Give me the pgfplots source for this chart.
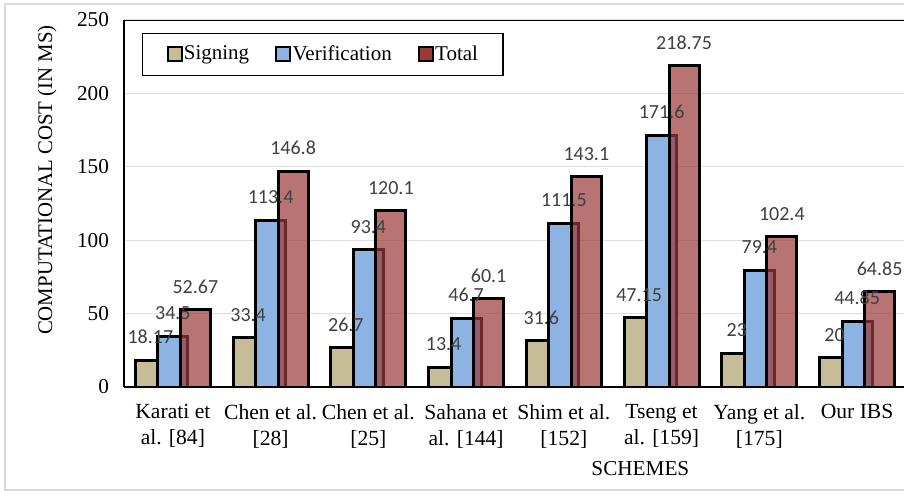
\documentclass[border=0pt]{standalone}
\usepackage{fontspec}
\setmainfont{Liberation Serif}
\newfontfamily\calibri{Carlito}
\usepackage{pgfplots}
\pgfplotsset{compat=1.18}
\usepackage{pgfplotstable}

\pgfplotstableread{
x sig ver tot
0 18.17 34.5 52.67
1 33.4 113.4 146.8
2 26.7 93.4 120.1
3 13.4 46.7 60.1
4 31.6 111.5 143.1
5 47.15 171.6 218.75
6 23 79.4 102.4
7 20 44.85 64.85
}\data

\definecolor{sigc}{RGB}{196,189,151}
\definecolor{verc}{RGB}{141,179,226}
\definecolor{totc}{RGB}{155,56,56}
\definecolor{labc}{RGB}{64,64,64}
\definecolor{gridc}{RGB}{222,222,222}

\begin{document}
\begin{tikzpicture}
\useasboundingbox (0,0) rectangle (452pt,247.5pt);
\fill[white] (0,0) rectangle (452pt,247.5pt);
\draw[gray!30, line width=0.75pt] (456pt,245.5pt) -- (2.5pt,245.5pt) -- (2.5pt,2.5pt) -- (456pt,2.5pt);
\begin{axis}[
  at={(62pt,54pt)}, anchor=south west,
  scale only axis, width=390pt, height=183.5pt,
  xmin=-0.5, xmax=7.48, ymin=0, ymax=250,
  ybar, bar width=15pt,
  /pgf/number format/assume math mode=true,
  xtick={0,...,7},
  xticklabels={{Karati et\\al. [84]},{Chen et al.\\{}[28]},{Chen et al.\\{}[25]},{Sahana et\\al. [144]},{Shim et al.\\{}[152]},{Tseng et\\al. [159]},{Yang et al.\\{}[175]},{Our IBS}},
  xticklabel style={align=center, font=\fontsize{10.8}{13}\selectfont, yshift=-5pt},
  ytick={0,50,...,250},
  yticklabel style={font=\fontsize{10.6}{12}\selectfont, xshift=-4pt},
  major tick length=0pt,
  axis x line*=bottom, axis y line*=left,
  x axis line style={line width=1.25pt, -},
  y axis line style={line width=0.75pt, -},
  ymajorgrids, grid style={gridc, line width=0.6pt},
  ylabel={COMPUTATIONAL COST (IN MS)},
  every axis y label/.style={at={(axis description cs:0,0.564)}, xshift=-38.5pt, rotate=90, anchor=center, font=\fontsize{10.4}{12}\selectfont},
  xlabel={SCHEMES},
  every axis x label/.style={at={(axis description cs:0.662,-0.221)}, anchor=center, font=\fontsize{10.6}{12}\selectfont},
  legend style={at={(0.023,0.965)}, anchor=north west, draw=black, line width=0.75pt,
    legend columns=-1, font=\fontsize{10.5}{12}\selectfont, inner xsep=12pt, inner ysep=4pt,
    nodes={inner xsep=0.6pt, inner ysep=2pt},
    /tikz/every even column/.append style={column sep=12.5pt}},
  legend image code/.code={\draw[#1, draw=black, line width=1pt, fill opacity=1] (0pt,-3.5pt) rectangle (7pt,3.5pt);},
  nodes near coords style={font=\calibri\fontsize{10}{12}\selectfont, text=labc, anchor=south, inner sep=0pt, yshift=8pt},
]
\addplot[fill=sigc, draw=black, line width=1.5pt, bar shift=-11.25pt] table[x=x, y=sig]{\data};
\addplot[fill=verc, draw=black, line width=1.5pt, bar shift=0pt] table[x=x, y=ver]{\data};
\addplot[fill=totc, fill opacity=0.7, draw=black, line width=1.5pt, bar shift=11.25pt] table[x=x, y=tot]{\data};
\legend{Signing,Verification,Total}
\addplot[draw=none, fill=none, bar shift=-11.25pt, forget plot, nodes near coords, point meta=explicit symbolic] table[x=x, y=sig, meta=sig]{\data};
\addplot[draw=none, fill=none, bar shift=0pt, forget plot, nodes near coords, point meta=explicit symbolic] table[x=x, y=ver, meta=ver]{\data};
\addplot[draw=none, fill=none, bar shift=11.25pt, forget plot, nodes near coords, point meta=explicit symbolic] table[x=x, y=tot, meta=tot]{\data};
\draw[line width=1pt] (rel axis cs:0,1) -- (rel axis cs:1,1);
\end{axis}
\end{tikzpicture}
\end{document}
